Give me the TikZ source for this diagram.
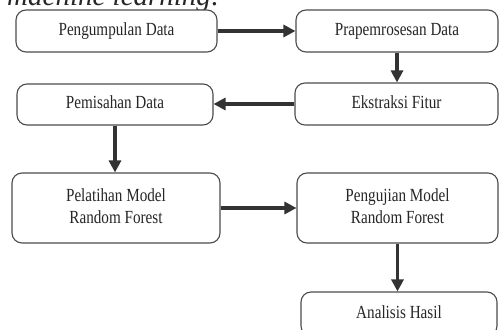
\documentclass[tikz,border=0pt]{standalone}
\usepackage{fontspec}
\usepackage{graphicx}
\setmainfont{Liberation Serif}
\usetikzlibrary{arrows.meta}
\newcommand\bxt[1]{\scalebox{0.82}[1]{\begin{tabular}{@{}c@{}}#1\end{tabular}}}
\begin{document}
\begin{tikzpicture}[x=1pt,y=1pt,
  box/.style={draw=black!70, line width=1.1pt, rounded corners=10pt, fill=white,
    align=center, text=black!85, font=\fontsize{18.5}{21.5}\selectfont, inner sep=0pt},
  arr/.style={draw=black!80, line width=3.3pt, -{Triangle[length=12pt,width=12pt]}}]
\clip (0,0) rectangle (500,329);
\useasboundingbox (0,0) rectangle (500,329);
\node[anchor=base west, inner sep=0pt, text=black!85, font=\itshape\fontsize{29}{30}\selectfont] (title) at (7,323) {machine learning:};
\node[box, minimum width=201pt, minimum height=42pt] (b1) at (116.5,298) {\bxt{Pengumpulan Data}};
\node[box, minimum width=202pt, minimum height=42pt] (b2) at (397,298) {\bxt{Prapemrosesan Data}};
\node[box, minimum width=203pt, minimum height=42pt] (b3) at (396.5,225) {\bxt{Ekstraksi Fitur}};
\node[box, minimum width=196pt, minimum height=41pt] (b4) at (115,224.5) {\bxt{Pemisahan Data}};
\node[box, minimum width=208pt, minimum height=70pt] (b5) at (116,121) {\bxt{Pelatihan Model\\Random Forest}};
\node[box, minimum width=201pt, minimum height=70pt] (b6) at (397.5,121) {\bxt{Pengujian Model\\Random Forest}};
\node[box, minimum width=196pt, minimum height=44pt] (b7) at (399,15) {\bxt{Analisis Hasil}};
\draw[arr] (b1.east) -- (b2.west);
\draw[arr] (b2.south) -- (b2.south |- b3.north);
\draw[arr] (b3.west) -- (b3.west -| b4.east);
\draw[arr] (b4.south) -- (b4.south |- b5.north);
\draw[arr] (b5.east) -- (b6.west);
\draw[arr] (b6.south) -- (b6.south |- b7.north);
\end{tikzpicture}
\end{document}
